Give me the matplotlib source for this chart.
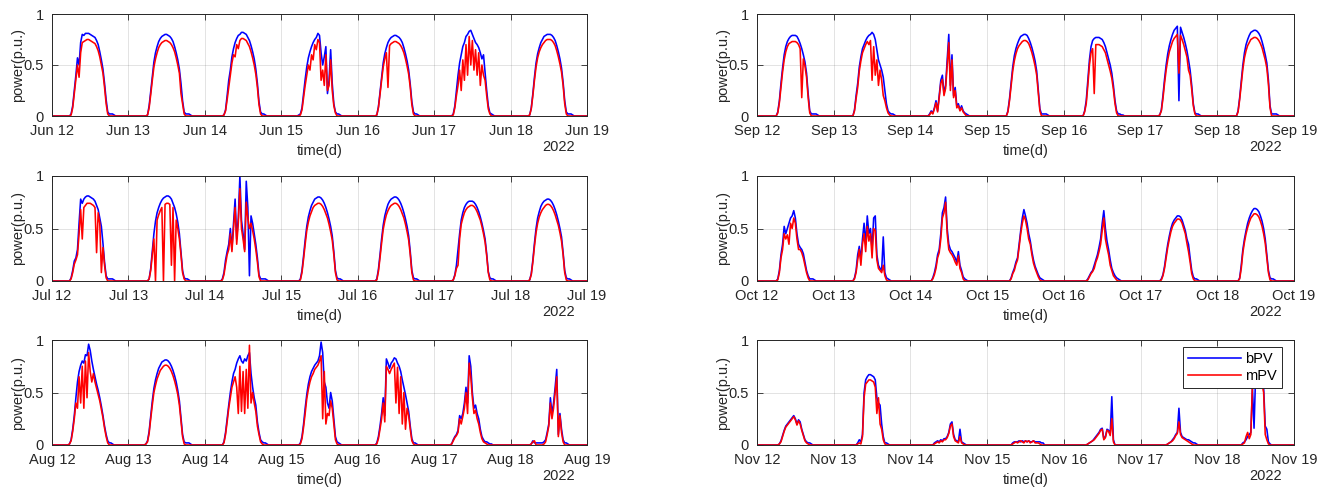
import numpy as np
import matplotlib
matplotlib.use("Agg")
import matplotlib.pyplot as plt
import matplotlib.dates as mdates
from datetime import datetime

plt.rcParams['font.family'] = ['Liberation Sans', 'DejaVu Sans']

# half-hour readings from 05:00 to 20:00 (values in % of p.u.)
HOURS = np.arange(5.0, 20.01, 0.5)
YEAR = 2022
START_DAY = 12
N_DAYS = 7
MONTHS = [6, 7, 8, 9, 10, 11]
SERIES_NAMES = ["bPV", "mPV"]
Y_TICKS = [0, 0.5, 1]
Y_TICK_LABELS = ["0", "0.5", "1"]

JUN_BPV = [
    [0,0,2,10,25,40,57,50,72,80,79,81,81,81,80,79,78,77,74,70,63,55,46,32,16,4,2,2,2,1,0],
    [0,0,1,10,24,39,53,62,68,73,76,78,79,80,80,79,78,76,73,68,62,55,46,32,15,4,2,2,2,1,0],
    [0,0,1,6,20,35,45,58,66,72,76,79,80,82,82,81,80,77,74,69,63,56,46,32,14,4,2,2,1,0,0],
    [0,1,2,8,22,36,48,57,63,68,72,75,77,81,79,62,50,58,68,22,35,65,32,12,4,2,2,1,0,0,0],
    [0,0,1,9,23,38,52,61,67,72,75,77,78,79,79,78,77,75,72,67,61,54,45,31,14,4,2,2,1,0,0],
    [0,0,2,10,25,40,52,60,68,72,78,80,83,84,80,76,72,70,67,62,56,60,42,25,10,3,2,1,0,0,0],
    [0,0,1,8,22,38,52,61,67,72,75,78,79,80,80,80,79,77,74,69,63,56,47,33,15,4,2,2,2,1,0],
]
JUN_MPV = [
    [0,0,1,8,22,36,50,38,62,72,73,74,75,75,74,73,72,71,68,64,58,50,42,28,12,2,0,0,0,0,0],
    [0,0,1,8,21,35,48,56,62,67,70,72,73,74,74,73,72,70,67,63,57,50,42,22,12,2,0,0,0,0,0],
    [0,0,1,5,16,28,40,52,60,58,70,66,74,76,76,75,74,71,68,63,57,50,41,28,11,2,0,0,0,0,0],
    [0,0,1,6,18,30,40,50,45,60,55,70,65,75,72,35,45,30,60,25,30,55,25,10,3,0,0,0,0,0,0],
    [0,0,1,8,21,35,48,56,62,28,69,71,72,73,73,72,71,69,66,62,56,49,41,28,11,2,0,0,0,0,0],
    [0,0,1,8,20,30,45,25,55,35,70,40,78,50,74,45,65,40,62,30,50,40,35,20,7,2,0,0,0,0,0],
    [0,0,1,7,20,35,48,57,63,67,70,72,74,75,75,75,74,72,69,64,58,51,43,30,12,2,0,0,0,0,0],
]
JUL_BPV = [
    [0,0,3,10,19,22,30,55,78,74,78,80,81,81,80,79,78,76,72,68,60,52,36,18,5,2,2,2,2,1,0],
    [0,0,0,2,12,28,45,57,65,70,74,77,79,80,81,81,80,78,74,70,64,56,45,28,10,3,2,2,1,0,0],
    [0,2,8,20,28,35,50,30,55,78,40,60,100,58,45,30,95,70,5,62,55,45,35,22,6,2,2,2,2,1,0],
    [0,0,2,10,24,39,52,61,67,72,75,78,79,80,80,79,77,74,70,65,59,52,43,28,10,3,2,2,1,0,0],
    [0,0,2,11,25,40,53,62,68,73,76,78,79,80,80,79,77,74,70,65,59,52,43,28,10,3,2,2,1,0,0],
    [0,0,1,6,15,30,45,58,65,70,73,75,76,76,76,75,73,70,66,61,55,48,40,26,9,3,2,2,1,0,0],
    [0,0,1,7,20,36,50,60,66,71,74,76,77,78,78,77,75,72,68,63,57,50,42,27,10,3,2,2,1,0,0],
]
JUL_MPV = [
    [0,0,2,8,16,20,25,45,68,40,70,72,74,74,74,73,72,70,27,65,55,8,32,15,3,0,0,0,0,0,0],
    [0,0,0,2,10,25,40,0,58,63,67,70,0,73,74,74,73,15,70,0,58,50,40,25,8,2,0,0,0,0,0],
    [0,1,6,16,25,30,45,28,50,70,35,55,88,50,40,28,75,60,50,55,48,40,30,18,4,0,0,0,0,0,0],
    [0,0,1,8,21,35,48,56,62,66,70,72,73,74,74,73,71,68,64,60,54,47,39,25,8,1,0,0,0,0,0],
    [0,0,1,9,22,36,49,57,63,67,70,72,73,74,74,73,71,68,64,60,54,47,39,25,8,1,0,0,0,0,0],
    [0,0,1,5,12,15,40,54,60,65,68,70,71,72,72,71,69,66,62,58,52,45,37,24,8,1,0,0,0,0,0],
    [0,0,1,6,18,33,46,55,61,65,68,70,72,73,73,72,70,67,63,58,53,46,38,25,8,1,0,0,0,0,0],
]
AUG_BPV = [
    [0,1,5,15,28,45,60,70,76,80,78,86,85,96,90,80,72,65,58,52,45,37,28,18,10,4,2,2,1,0,0],
    [0,1,4,13,28,42,54,62,68,73,76,79,80,81,81,80,78,75,71,66,60,52,42,26,10,3,2,2,2,1,0],
    [0,0,3,12,25,38,50,60,68,72,78,82,85,80,78,82,80,85,88,68,55,45,38,22,12,5,3,2,2,1,0],
    [0,0,2,8,20,35,48,58,65,70,73,76,78,80,85,98,88,60,55,40,35,50,42,25,8,3,2,1,0,0,0],
    [0,0,2,8,18,30,45,28,82,78,73,78,80,83,82,78,75,70,62,55,48,40,32,18,6,2,2,1,0,0,0],
    [0,1,5,8,10,14,28,25,30,40,55,40,85,75,50,35,38,30,25,15,8,5,3,3,2,1,1,0,0,0,0],
    [0,0,0,1,4,2,2,2,2,2,2,3,5,12,20,45,30,40,55,72,10,30,15,5,2,2,1,0,0,0,0],
]
AUG_MPV = [
    [0,1,4,13,25,40,35,65,40,75,35,80,45,88,70,60,68,60,54,48,42,34,26,16,8,2,0,0,0,0,0],
    [0,1,3,11,25,38,50,57,63,67,71,73,75,76,76,75,73,70,66,61,55,48,38,23,8,1,0,0,0,0,0],
    [0,0,2,10,22,35,45,55,60,65,55,30,75,32,70,30,72,35,95,40,50,40,32,18,10,3,1,0,0,0,0],
    [0,0,1,6,17,30,44,53,60,65,68,72,74,76,80,85,25,70,20,30,28,42,35,20,5,1,0,0,0,0,0],
    [0,0,1,6,15,25,40,22,75,72,68,72,75,78,40,74,30,65,20,50,15,35,28,15,4,1,0,0,0,0,0],
    [0,1,4,7,9,12,25,20,27,35,50,30,78,65,45,30,33,25,20,12,6,3,2,1,0,0,0,0,0,0,0],
    [0,0,0,1,3,4,0,0,0,0,0,1,3,10,18,40,25,35,50,65,8,28,12,3,0,0,0,0,0,0,0],
]
SEP_BPV = [
    [0,0,0,4,15,32,47,60,68,73,76,78,79,79,79,78,75,71,66,60,53,42,22,5,2,2,2,2,1,0,0],
    [0,0,0,6,20,32,48,58,66,70,74,77,79,80,82,80,75,65,55,50,45,38,25,12,5,3,2,2,1,0,0],
    [0,0,2,5,3,8,15,5,20,35,40,22,30,55,80,30,60,20,28,10,12,6,10,5,3,2,1,0,0,0,0],
    [0,0,0,5,17,33,48,59,66,71,75,78,79,80,80,79,76,72,67,61,54,44,25,7,2,2,2,2,1,0,0],
    [0,0,0,5,15,35,55,68,74,76,77,77,77,76,75,72,68,62,56,50,42,30,15,5,2,2,1,1,0,0,0],
    [0,0,1,6,20,36,50,61,69,75,80,84,86,88,15,87,82,77,71,64,55,45,30,12,3,2,2,1,0,0,0],
    [0,0,0,5,18,34,50,62,70,75,79,82,83,84,84,83,81,78,73,67,60,52,35,10,2,2,2,2,1,0,0],
]
SEP_MPV = [
    [0,0,0,3,13,28,43,55,63,68,71,72,73,73,73,72,70,66,18,56,49,38,18,3,0,0,0,0,0,0,0],
    [0,0,0,5,17,28,44,54,62,66,70,73,70,74,35,68,40,55,30,45,35,20,15,8,3,1,0,0,0,0,0],
    [0,0,1,4,2,7,13,4,18,32,36,20,27,50,72,25,55,18,25,8,10,5,8,4,2,0,0,0,0,0,0],
    [0,0,0,4,15,30,44,54,61,66,69,71,73,74,74,73,71,67,62,56,49,40,22,5,0,0,0,0,0,0,0],
    [0,0,0,4,12,30,50,62,66,22,70,70,70,69,68,65,62,56,50,44,37,26,12,3,0,0,0,0,0,0,0],
    [0,0,1,5,17,32,45,55,63,68,73,76,78,80,42,79,75,70,64,58,45,40,26,10,2,0,0,0,0,0,0],
    [0,0,0,4,16,31,46,57,64,69,72,75,76,77,77,76,74,71,67,61,55,47,31,8,0,0,0,0,0,0,0],
]
OCT_BPV = [
    [0,0,0,2,10,25,35,52,45,50,55,60,62,67,60,45,35,32,30,26,18,10,5,2,2,2,1,0,0,0,0],
    [0,0,0,3,10,25,33,20,40,55,35,62,45,50,30,60,62,25,15,12,10,42,8,3,2,1,0,0,0,0,0],
    [0,0,0,0,3,8,15,25,30,45,65,70,80,50,35,30,28,25,22,18,28,15,10,4,2,1,0,0,0,0,0],
    [0,0,0,0,0,3,8,12,18,22,35,48,60,68,62,55,45,38,28,20,14,10,6,3,2,1,0,0,0,0,0],
    [0,0,0,0,0,2,5,8,10,15,20,25,32,40,55,67,50,38,30,20,12,8,5,3,2,1,0,0,0,0,0],
    [0,0,0,2,6,14,25,35,43,50,55,58,60,62,62,61,58,53,48,40,35,22,10,4,2,2,1,0,0,0,0],
    [0,0,0,0,3,15,30,40,48,55,60,64,67,69,69,68,66,62,57,50,40,25,10,3,2,2,1,0,0,0,0],
]
OCT_MPV = [
    [0,0,0,1,8,22,30,45,40,44,35,55,50,60,55,40,30,30,27,22,15,8,3,0,0,0,0,0,0,0,0],
    [0,0,0,2,8,20,30,15,35,45,28,52,38,45,22,50,48,20,12,10,8,15,5,1,0,0,0,0,0,0,0],
    [0,0,0,0,2,6,12,22,27,40,60,65,75,45,30,27,25,22,18,15,24,12,8,2,0,0,0,0,0,0,0],
    [0,0,0,0,0,2,7,10,16,20,32,45,55,62,58,50,40,35,25,17,12,8,4,1,0,0,0,0,0,0,0],
    [0,0,0,0,0,1,4,7,9,12,18,22,28,35,48,60,40,32,25,15,10,5,3,1,0,0,0,0,0,0,0],
    [0,0,0,1,5,12,22,32,40,47,52,55,57,59,59,58,55,50,45,36,28,18,7,2,0,0,0,0,0,0,0],
    [0,0,0,0,2,12,27,37,45,51,56,60,62,64,64,63,61,57,52,45,36,22,8,1,0,0,0,0,0,0,0],
]
NOV_BPV = [
    [0,0,0,0,1,4,9,14,18,20,22,24,26,28,25,20,24,22,15,10,5,3,2,2,1,0,0,0,0,0,0],
    [0,0,0,0,0,2,5,3,10,50,62,65,67,67,66,65,62,45,40,38,20,8,2,2,1,0,0,0,0,0,0],
    [0,0,0,0,0,2,3,4,3,5,4,6,6,8,12,20,22,10,5,4,3,15,3,2,1,0,0,0,0,0,0],
    [0,0,0,0,0,0,2,3,3,3,4,3,4,3,4,3,4,3,3,4,3,3,3,3,2,2,0,0,0,0,0],
    [0,0,0,0,0,1,2,3,4,6,8,10,12,15,16,6,8,15,14,10,46,5,0,0,0,0,0,0,0,0,0],
    [0,0,0,0,0,0,0,1,2,3,5,7,10,12,35,12,8,7,6,5,5,4,3,2,2,1,0,0,0,0,0],
    [0,0,0,0,0,0,2,3,5,8,10,12,55,16,68,70,68,65,60,55,18,15,3,1,0,0,0,0,0,0,0],
]
NOV_MPV = [
    [0,0,0,0,1,3,8,13,17,19,21,23,25,27,24,19,23,20,14,9,4,2,1,0,0,0,0,0,0,0,0],
    [0,0,0,0,0,1,2,1,8,45,58,60,62,62,61,60,55,30,45,20,15,5,1,0,0,0,0,0,0,0,0],
    [0,0,0,0,0,1,2,3,2,4,3,5,5,7,11,18,20,8,4,3,2,8,2,1,0,0,0,0,0,0,0],
    [0,0,0,0,0,0,1,2,3,2,3,4,3,2,4,3,4,2,3,4,2,2,2,1,0,0,0,0,0,0,0],
    [0,0,0,0,0,1,2,3,4,5,7,9,11,14,15,5,7,14,13,9,25,3,0,0,0,0,0,0,0,0,0],
    [0,0,0,0,0,0,0,1,2,3,4,6,9,11,22,10,7,6,5,4,3,2,1,0,0,0,0,0,0,0,0],
    [0,0,0,0,0,0,1,2,8,12,6,10,58,62,72,70,65,62,58,50,10,5,1,0,0,0,0,0,0,0,0],
]

BPV = [JUN_BPV, JUL_BPV, AUG_BPV, SEP_BPV, OCT_BPV, NOV_BPV]
MPV = [JUN_MPV, JUL_MPV, AUG_MPV, SEP_MPV, OCT_MPV, NOV_MPV]

W, H = 1329, 487
fig = plt.figure(figsize=(W / 100, H / 100), dpi=100)
COL_X = [(52, 587), (757, 1294)]
ROW_Y = [(14, 116), (176, 281), (340, 445)]
INK = '#262626'


def build(start_num, days):
    xs = [start_num]
    ys = [0.0]
    for d, vals in enumerate(days):
        v = np.asarray(vals, dtype=float) / 100.0
        n = min(len(v), len(HOURS))
        xs.extend(start_num + d + HOURS[:n] / 24.0)
        ys.extend(v[:n])
    xs.append(start_num + N_DAYS)
    ys.append(0.0)
    return np.array(xs), np.array(ys)


axes = []
for i, month in enumerate(MONTHS):
    col, row = divmod(i, 3)
    x0, x1 = COL_X[col]
    y0, y1 = ROW_Y[row]
    ax = fig.add_axes([x0 / W, 1 - y1 / H, (x1 - x0) / W, (y1 - y0) / H])
    axes.append(ax)
    start = mdates.date2num(datetime(YEAR, month, START_DAY))
    xb, yb = build(start, BPV[i])
    xm, ym = build(start, MPV[i])
    ax.plot(xb, yb, color='#0000ff', lw=1.15, label=SERIES_NAMES[0])
    ax.plot(xm, ym, color='#ff0000', lw=1.15, label=SERIES_NAMES[1])
    ax.set_xlim(start, start + N_DAYS)
    ax.set_ylim(0, 1)
    ax.set_yticks(Y_TICKS)
    ax.set_yticklabels(Y_TICK_LABELS)
    ax.xaxis.set_major_locator(mdates.DayLocator())
    ax.xaxis.set_major_formatter(mdates.DateFormatter('%b %d'))
    ax.tick_params(direction='in', length=4, width=0.6, top=True, right=True,
                   color=INK, labelcolor=INK, labelsize=10.5, pad=6)
    ax.grid(True, color=INK, alpha=0.15, lw=0.6)
    for s in ax.spines.values():
        s.set_color(INK)
        s.set_linewidth(0.7)
    ax.set_ylabel('power(p.u.)', fontsize=10.5, color=INK, labelpad=-1)
    ax.set_xlabel('time(d)', fontsize=10.5, color=INK, labelpad=4)
    ax.annotate(str(YEAR), xy=(1, 0), xycoords='axes fraction',
                xytext=(-28, -31), textcoords='offset pixels',
                ha='center', va='center', fontsize=10.5, color=INK)

leg = axes[-1].legend(loc='upper right', bbox_to_anchor=(0.978, 0.935),
                      borderaxespad=0, fontsize=10.5, handlelength=3.6,
                      fancybox=False, framealpha=1, edgecolor=INK,
                      labelspacing=0.2, borderpad=0.35, handletextpad=0.3)
leg.get_frame().set_linewidth(0.7)

fig.savefig('out.png', dpi=100)
